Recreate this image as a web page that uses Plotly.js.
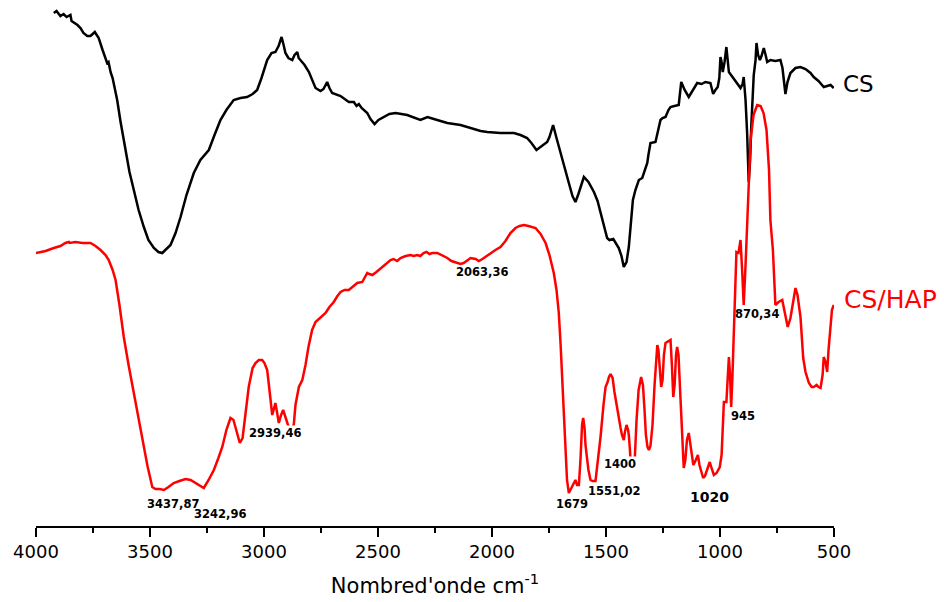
<!DOCTYPE html>
<html>
<head>
<meta charset="utf-8">
<script src="https://cdn.plot.ly/plotly-3.0.1.min.js"></script>
<style>html,body{margin:0;padding:0;background:#fff;}#chart{width:944px;height:602px;}</style>
</head>
<body>
<div id="chart"></div>
<script>
// CS spectrum (wavenumber cm-1, transmittance a.u.)
var csWavenumber = [3922,3910,3893,3879,3866,3849,3844,3831,3818,3805,3792,3775,3761,3742,3725,3708,3695,3688,3682,3673,3664,3644,3629,3607,3590,3571,3550,3527,3507,3483,3463,3446,3428,3410,3388,3366,3340,3308,3279,3242,3217,3191,3165,3133,3103,3074,3050,3030,3011,2986,2967,2950,2936,2923,2914,2906,2893,2876,2866,2854,2848,2840,2822,2803,2787,2774,2752,2739,2723,2713,2701,2664,2628,2606,2594,2584,2572,2547,2533,2515,2498,2474,2450,2423,2372,2314,2283,2255,2196,2138,2094,2050,2021,1963,1904,1875,1846,1827,1805,1783,1758,1748,1732,1717,1700,1682,1663,1647,1634,1621,1597,1577,1553,1537,1524,1511,1495,1485,1468,1444,1432,1422,1410,1400,1393,1382,1371,1356,1341,1331,1319,1314,1305,1283,1270,1261,1252,1239,1226,1217,1200,1181,1170,1155,1137,1120,1100,1081,1064,1042,1030,1020,1010,1003,998,993,988,980,972,961,949,939,927,910,901,896,888,881,874,868,863,857,852,844,840,833,825,818,808,800,793,779,757,735,726,719,713,704,691,669,647,625,603,589,568,545,528,515,501];
var csSignal = [513,515,510,512,509,511,505,503,501,498,493,490,490,494,488,476,466,463,464,454,448,426,404,376,354,336,316,299,286,278,274,273,277,281,293,309,331,353,366,376,391,406,416,426,428,429,432,436,448,466,473,474,480,489,481,473,468,466,471,474,468,466,461,454,446,438,435,437,444,438,433,430,424,424,420,422,418,413,407,402,406,409,412,413,411,406,409,407,403,401,398,395,394,393,393,391,388,383,376,380,384,389,401,388,373,357,343,330,324,332,349,344,334,325,313,300,288,286,287,278,270,259,264,279,301,326,336,346,348,356,363,371,383,384,398,406,408,409,416,419,420,421,444,436,429,436,443,442,444,443,432,436,439,448,469,464,454,464,479,454,450,447,444,438,442,449,426,393,344,366,399,436,451,466,483,471,466,470,478,471,464,466,465,466,458,444,432,444,453,458,459,457,453,449,445,439,440,441,438];

// CS/HAP spectrum
var hapWavenumber = [4000,3958,3922,3893,3871,3856,3853,3827,3796,3761,3739,3717,3695,3681,3664,3651,3634,3615,3594,3571,3550,3527,3511,3490,3476,3458,3439,3419,3396,3371,3344,3322,3308,3287,3264,3243,3220,3200,3183,3165,3147,3134,3121,3106,3094,3081,3067,3050,3037,3023,3008,2998,2986,2976,2964,2958,2950,2943,2935,2925,2916,2906,2898,2888,2877,2869,2862,2847,2832,2818,2805,2789,2774,2752,2730,2713,2694,2678,2664,2647,2628,2607,2591,2569,2559,2547,2538,2525,2507,2482,2463,2445,2432,2416,2401,2379,2357,2344,2328,2314,2300,2287,2274,2261,2240,2221,2196,2178,2153,2138,2124,2107,2094,2072,2058,2042,2024,2007,1985,1963,1941,1919,1897,1879,1860,1840,1809,1787,1765,1748,1729,1717,1707,1699,1692,1684,1678,1671,1663,1656,1648,1640,1634,1627,1619,1612,1605,1600,1594,1590,1582,1577,1568,1559,1546,1537,1524,1511,1502,1493,1487,1480,1471,1463,1452,1444,1436,1430,1422,1417,1410,1403,1400,1395,1391,1378,1373,1366,1357,1346,1338,1331,1325,1318,1312,1305,1296,1287,1275,1270,1263,1258,1252,1246,1239,1230,1217,1211,1205,1199,1193,1188,1182,1173,1164,1159,1152,1145,1137,1130,1117,1110,1097,1090,1081,1074,1066,1055,1045,1037,1027,1015,1001,993,987,983,972,966,961,956,951,946,939,933,928,919,910,903,896,888,881,875,866,853,837,822,809,796,785,779,768,757,743,727,717,703,691,678,669,660,647,635,625,610,598,589,576,568,559,550,545,537,530,524,515,509,501];
var hapSignal = [273,275,278,280,283,284,283,284,283,283,280,276,271,266,256,246,221,189,161,133,106,79,60,39,37,37,36,39,43,45,47,46,44,41,38,46,56,68,79,96,108,106,94,83,88,111,139,158,163,166,166,163,156,136,111,116,123,114,103,111,116,109,103,96,96,102,121,139,146,161,179,196,204,209,213,219,224,230,234,236,236,240,243,244,248,253,252,251,254,259,263,266,267,265,268,270,271,270,271,270,273,274,272,273,273,271,268,265,263,262,263,266,268,267,265,267,270,273,276,279,285,293,298,300,301,300,298,292,283,271,253,236,213,181,146,106,73,46,33,36,41,43,46,41,41,66,101,108,98,81,63,56,46,45,45,61,89,121,139,144,149,152,148,134,118,106,98,91,86,94,101,96,91,76,60,59,71,106,136,149,141,116,91,79,76,80,101,141,181,176,154,139,146,171,183,184,186,161,129,141,171,179,171,126,76,58,66,86,93,81,61,64,71,61,52,48,50,58,64,58,51,53,59,71,96,124,124,146,169,151,119,146,199,246,274,273,286,256,221,261,306,346,386,411,421,420,413,396,356,306,276,221,224,226,216,199,208,226,238,231,209,168,154,143,139,139,141,139,138,151,169,164,154,176,206,216,221];

// Series names and peak labels
var seriesNames = ["CS", "CS/HAP"];
var peakLabels = ["3437,87","3242,96","2939,46","2063,36","1679","1551,02","1400","1020","945","870,34","573,92"];
var peakLabelX = [3401,3192,2950,2046,1648,1467,1438,1047,897,839,435];
var peakLabelY = [22,12,93,254,22,35,62,29,110,212,140];
var tickValues = [4000,3500,3000,2500,2000,1500,1000,500];

var traces = [
  {x: csWavenumber, y: csSignal, type: 'scatter', mode: 'lines', name: seriesNames[0],
   line: {color: '#000000', width: 2.5}, cliponaxis: false, hoverinfo: 'x+y'},
  {x: hapWavenumber, y: hapSignal, type: 'scatter', mode: 'lines', name: seriesNames[1],
   line: {color: '#ff0000', width: 2.5}, cliponaxis: false, hoverinfo: 'x+y'}
];

var annotations = peakLabels.map(function(t, i) {
  var big = (t === "1020");
  var bg = (t === "1400" || t === "2939,46") ? '#ffffff' : 'rgba(0,0,0,0)';
  return {x: peakLabelX[i], y: peakLabelY[i], xref: 'x', yref: 'y', text: '<b>' + t + '</b>',
    showarrow: false, xanchor: 'center', yanchor: 'middle', bgcolor: bg, borderpad: 0,
    font: {family: 'DejaVu Sans, Arial, sans-serif', size: big ? 14 : 11.5, color: '#000000'}};
});
// series labels to the right of the curves (paper coords, beyond the 500 cm-1 end)
annotations.push({x: 1.031, y: 0.840, xref: 'paper', yref: 'paper', text: seriesNames[0], showarrow: false,
  xanchor: 'center', yanchor: 'middle', font: {family: 'DejaVu Sans, Arial, sans-serif', size: 23, color: '#000000'}});
annotations.push({x: 1.0714, y: 0.4297, xref: 'paper', yref: 'paper', text: seriesNames[1], showarrow: false,
  xanchor: 'center', yanchor: 'middle', font: {family: 'DejaVu Sans, Arial, sans-serif', size: 25, color: '#ff0000'}});

var layout = {
  width: 944, height: 602,
  margin: {l: 36, r: 110, t: 0, b: 76, pad: 0},
  paper_bgcolor: '#ffffff', plot_bgcolor: '#ffffff',
  showlegend: false,
  xaxis: {
    range: [4000, 500], autorange: false,
    tickvals: tickValues, ticktext: tickValues.map(String),
    showline: true, linecolor: '#000000', linewidth: 1.5,
    ticks: 'outside', ticklen: 9, tickwidth: 1.5, tickcolor: '#000000',
    minor: {dtick: 250, tick0: 0, ticks: 'outside', ticklen: 5, tickwidth: 1.5, tickcolor: '#000000', showgrid: false},
    showgrid: false, zeroline: false,
    tickfont: {family: 'DejaVu Sans, Arial, sans-serif', size: 18, color: '#000000'},
    title: {text: "Nombred'onde cm<sup>-1</sup>", font: {family: 'DejaVu Sans, Arial, sans-serif', size: 21, color: '#000000'}, standoff: 17}
  },
  yaxis: {
    range: [0, 526], autorange: false, visible: false, showgrid: false, zeroline: false
  },
  annotations: annotations
};

Plotly.newPlot('chart', traces, layout, {displayModeBar: false, staticPlot: true});
</script>
</body>
</html>
